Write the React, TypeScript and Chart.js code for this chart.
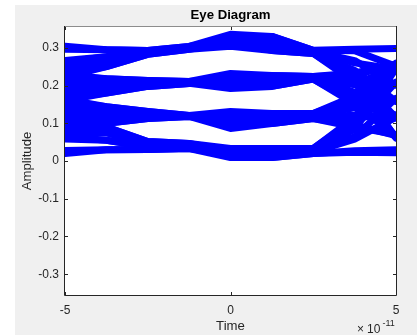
import React, { useEffect, useRef } from "react";
import { Chart, registerables } from "chart.js";

Chart.register(...registerables);

// Time samples of every trace, in units of 1e-11 s
const timeSamples = [-5, -3.75, -2.5, -1.25, 0, 1.25, 2.5, 3.75, 5];

// Axis ticks
const xTicks = [-5, 0, 5];
const xTickLabels = ["-5", "0", "5"];
const yTicks = [-0.3, -0.2, -0.1, 0, 0.1, 0.2, 0.3];
const yTickLabels = ["-0.3", "-0.2", "-0.1", "0", "0.1", "0.2", "0.3"];

// Eye-diagram traces (amplitude at each time sample), grouped by the symbol level held in the eye centre
const level3Traces = [
  [0.222, 0.25, 0.2825, 0.2958, 0.3037, 0.293, 0.2851, 0.209, 0.062],
  [0.229, 0.25, 0.2825, 0.2958, 0.3143, 0.3177, 0.2904, 0.26, 0.243],
  [0.242, 0.263, 0.286, 0.2984, 0.3143, 0.3053, 0.2878, 0.234, 0.114],
  [0.25, 0.263, 0.286, 0.2984, 0.3249, 0.33, 0.2931, 0.292, 0.251],
  [0.262, 0.276, 0.2895, 0.3011, 0.3249, 0.3177, 0.2904, 0.266, 0.201],
  [0.266, 0.276, 0.2895, 0.3011, 0.3143, 0.293, 0.2851, 0.215, 0.061],
  [0.304, 0.295, 0.293, 0.3037, 0.3355, 0.33, 0.2931, 0.296, 0.298],
  [0.296, 0.295, 0.293, 0.3037, 0.3249, 0.3053, 0.2878, 0.24, 0.158],
];
const level2Traces = [
  [0.16, 0.18, 0.1976, 0.2056, 0.1923, 0.1976, 0.217, 0.151, 0.066],
  [0.166, 0.18, 0.1976, 0.2056, 0.2056, 0.2171, 0.2217, 0.202, 0.249],
  [0.18, 0.192, 0.2029, 0.2074, 0.2056, 0.2073, 0.2193, 0.176, 0.12],
  [0.186, 0.192, 0.2029, 0.2074, 0.2188, 0.2268, 0.224, 0.227, 0.257],
  [0.21, 0.205, 0.2082, 0.2091, 0.2188, 0.2171, 0.2217, 0.208, 0.203],
  [0.202, 0.205, 0.2082, 0.2091, 0.2056, 0.1976, 0.217, 0.157, 0.063],
  [0.229, 0.218, 0.2135, 0.2109, 0.2321, 0.2268, 0.224, 0.233, 0.255],
  [0.223, 0.218, 0.2135, 0.2109, 0.2188, 0.2073, 0.2193, 0.182, 0.16],
];
const level1Traces = [
  [0.095, 0.1, 0.1127, 0.118, 0.0862, 0.0995, 0.1127, 0.09, 0.07],
  [0.101, 0.1, 0.1127, 0.118, 0.1012, 0.1172, 0.1216, 0.141, 0.251],
  [0.115, 0.118, 0.1189, 0.1189, 0.1012, 0.1083, 0.1171, 0.115, 0.122],
  [0.121, 0.118, 0.1189, 0.1189, 0.1163, 0.126, 0.126, 0.166, 0.259],
  [0.143, 0.131, 0.1251, 0.1198, 0.1163, 0.1172, 0.1216, 0.147, 0.207],
  [0.137, 0.131, 0.1251, 0.1198, 0.1012, 0.0995, 0.1127, 0.096, 0.067],
  [0.164, 0.144, 0.1313, 0.1207, 0.1313, 0.126, 0.126, 0.172, 0.254],
  [0.158, 0.144, 0.1313, 0.1207, 0.1163, 0.1083, 0.1171, 0.121, 0.164],
];
const level0Traces = [
  [0.02, 0.03, 0.0305, 0.0332, 0.0093, 0.0093, 0.0199, 0.023, 0.022],
  [0.028, 0.03, 0.0305, 0.0332, 0.0173, 0.0252, 0.0288, 0.084, 0.245],
  [0.058, 0.055, 0.0376, 0.0376, 0.0173, 0.0173, 0.0243, 0.058, 0.116],
  [0.064, 0.055, 0.0376, 0.0376, 0.0252, 0.0332, 0.0332, 0.109, 0.253],
  [0.081, 0.075, 0.0446, 0.042, 0.0252, 0.0252, 0.0288, 0.09, 0.209],
  [0.075, 0.075, 0.0446, 0.042, 0.0173, 0.0093, 0.0199, 0.027, 0.03],
  [0.102, 0.09, 0.0517, 0.0464, 0.0332, 0.0332, 0.0332, 0.115, 0.256],
  [0.096, 0.09, 0.0517, 0.0464, 0.0252, 0.0173, 0.0243, 0.064, 0.166],
];

const FONT = "'Liberation Sans', Arial, Helvetica, sans-serif";
const AXIS_COLOR = "#262626";

const decorPlugin = {
  id: "matlabDecor",
  beforeDraw(chart: any) {
    const { ctx, chartArea } = chart;
    ctx.save();
    ctx.fillStyle = "#ffffff";
    ctx.fillRect(0, 0, chart.width, chart.height);
    ctx.fillStyle = "#f0f0f0";
    ctx.fillRect(15, 5, chart.width - 15, chart.height - 5);
    ctx.fillStyle = "#ffffff";
    ctx.fillRect(
      chartArea.left,
      chartArea.top,
      chartArea.right - chartArea.left,
      chartArea.bottom - chartArea.top
    );
    ctx.restore();
  },
  afterDatasetsDraw(chart: any) {
    const { ctx, chartArea } = chart;
    const { left, right, top, bottom } = chartArea;
    const xs = chart.scales.x;
    const ys = chart.scales.y;
    ctx.save();
    ctx.lineWidth = 1;
    // top edge (rendered lighter in the reference)
    ctx.strokeStyle = "#8c8c8c";
    ctx.beginPath();
    ctx.moveTo(left - 1, top - 0.5);
    ctx.lineTo(right + 1, top - 0.5);
    ctx.stroke();
    ctx.strokeStyle = AXIS_COLOR;
    ctx.beginPath();
    ctx.moveTo(left - 0.5, top - 1);
    ctx.lineTo(left - 0.5, bottom + 0.5);
    ctx.lineTo(right + 0.5, bottom + 0.5);
    ctx.lineTo(right + 0.5, top - 1);
    ctx.stroke();
    const tl = 3;
    ctx.beginPath();
    xTicks.forEach((v) => {
      const px = Math.round(xs.getPixelForValue(v)) + 0.5;
      ctx.moveTo(px, bottom);
      ctx.lineTo(px, bottom - tl);
      ctx.moveTo(px, top);
      ctx.lineTo(px, top + tl);
    });
    yTicks.forEach((v) => {
      const py = Math.round(ys.getPixelForValue(v)) + 0.5;
      ctx.moveTo(left, py);
      ctx.lineTo(left + tl, py);
      ctx.moveTo(right, py);
      ctx.lineTo(right - tl, py);
    });
    ctx.stroke();
    ctx.restore();
  },
  afterDraw(chart: any) {
    const { ctx } = chart;
    ctx.save();
    ctx.fillStyle = AXIS_COLOR;
    ctx.textAlign = "left";
    ctx.textBaseline = "alphabetic";
    ctx.font = `12px ${FONT}`;
    ctx.fillText("\u00d7", 357, 333);
    ctx.fillText("10", 367, 333);
    ctx.font = `9px ${FONT}`;
    ctx.fillText("-11", 382.5, 326);
    ctx.restore();
  },
};

export default function App() {
  const canvasRef = useRef<HTMLCanvasElement | null>(null);

  useEffect(() => {
    const canvas = canvasRef.current;
    if (!canvas) return;
    const allTraces = [...level3Traces, ...level2Traces, ...level1Traces, ...level0Traces];
    const datasets = allTraces.map((trace) => ({
      data: trace.map((y, i) => ({ x: timeSamples[i], y })),
      showLine: true,
      borderColor: "#0000ff",
      backgroundColor: "#0000ff",
      borderWidth: 7,
      borderJoinStyle: "round" as const,
      borderCapStyle: "round" as const,
      pointRadius: 0,
      tension: 0,
      fill: false,
      clip: 0,
    }));

    const chart = new Chart(canvas, {
      type: "scatter",
      data: { datasets },
      plugins: [decorPlugin],
      options: {
        responsive: false,
        devicePixelRatio: 1,
        animation: false,
        events: [],
        layout: { padding: { left: 15, right: 21, top: 0, bottom: 0 } },
        plugins: {
          legend: { display: false },
          tooltip: { enabled: false },
          title: {
            display: true,
            text: "Eye Diagram",
            fullSize: false,
            color: "#000000",
            font: { family: FONT, size: 13.2, weight: "bold" },
            padding: { top: 7, bottom: 4.16 },
          },
        },
        scales: {
          x: {
            type: "linear",
            position: "bottom",
            min: -5,
            max: 5,
            grid: { display: false, drawTicks: false },
            border: { display: false },
            afterBuildTicks: (scale: any) => {
              scale.ticks = xTicks.map((value) => ({ value }));
            },
            afterFit: (scale: any) => {
              scale.height = 40;
            },
            ticks: {
              color: AXIS_COLOR,
              font: { family: FONT, size: 12 },
              padding: 8,
              maxRotation: 0,
              callback: (_v: any, i: number) => xTickLabels[i],
            },
            title: {
              display: true,
              text: "Time",
              color: AXIS_COLOR,
              font: { family: FONT, size: 13.2 },
              padding: { top: 0, bottom: 1 },
            },
          },
          y: {
            type: "linear",
            position: "left",
            min: -0.355,
            max: 0.355,
            grid: { display: false, drawTicks: false },
            border: { display: false },
            afterBuildTicks: (scale: any) => {
              scale.ticks = yTicks.map((value) => ({ value }));
            },
            afterFit: (scale: any) => {
              scale.width = 50;
            },
            ticks: {
              color: AXIS_COLOR,
              font: { family: FONT, size: 12 },
              padding: 6,
              callback: (_v: any, i: number) => yTickLabels[i],
            },
            title: {
              display: true,
              text: "Amplitude",
              color: AXIS_COLOR,
              font: { family: FONT, size: 13.2 },
              padding: { top: 4, bottom: 0 },
            },
          },
        },
      },
    });
    return () => chart.destroy();
  }, []);

  return (
    <div style={{ position: "absolute", left: 0, top: 0, width: 417, height: 335 }}>
      <canvas ref={canvasRef} width={417} height={335} style={{ display: "block" }} />
    </div>
  );
}
